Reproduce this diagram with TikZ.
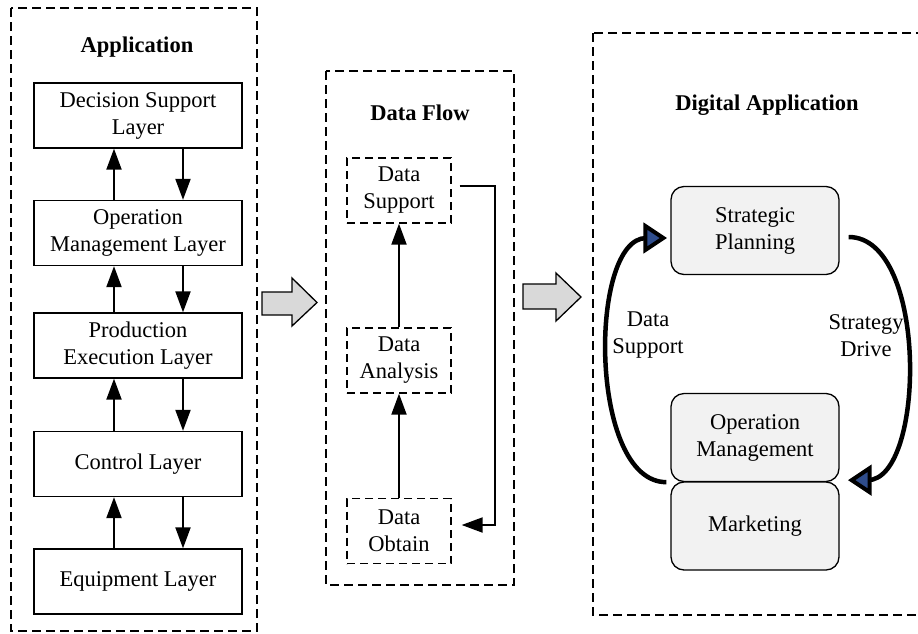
\documentclass[tikz,border=0pt]{standalone}
\usepackage{fontspec}
\setmainfont{Liberation Serif}
\usetikzlibrary{arrows.meta}

\definecolor{boxgray}{HTML}{F2F2F2}
\definecolor{arrowgray}{HTML}{D9D9D9}
\definecolor{tipblue}{HTML}{2F4D8C}

\tikzset{
  every node/.style={font=\fontsize{22.5}{27}\selectfont, align=center, inner sep=0pt},
  frame/.style={line width=1.3pt, dash pattern=on 9pt off 5pt},
  layer/.style={draw, line width=1.3pt, minimum width=208pt, minimum height=65pt},
  flowbox/.style={draw, line width=1.3pt, dash pattern=on 8pt off 5pt, minimum width=104pt, minimum height=65pt},
  digbox/.style={draw, line width=1.3pt, rounded corners=13pt, fill=boxgray, minimum width=168pt, minimum height=88pt},
  title/.style={font=\fontsize{22.5}{27}\selectfont\bfseries},
  arr/.style={line width=2pt, -{Triangle[length=21pt,width=15pt]}},
  bigline/.style={line width=4.5pt},
  bigtip/.style={draw, line width=4pt, fill=tipblue, line join=miter},
  blockarrow/.style={draw, line width=1.3pt, fill=arrowgray, line join=miter},
}

\begin{document}
\begin{tikzpicture}[x=1pt,y=-1pt]
\useasboundingbox (0,0) rectangle (918,633);

% ---------- left column: layered architecture ----------
\draw[frame] (11,8) rectangle (257,631);
\node[title] (apptitle) at (137,47) {Application};

\node[layer] (dec)  at (138,115.5) {Decision Support\\Layer};
\node[layer] (opm)  at (138,233)   {Operation\\Management Layer};
\node[layer] (prod) at (138,345.5) {Production\\Execution Layer};
\node[layer] (ctrl) at (138,464)   {Control Layer};
\node[layer] (equ)  at (138,581.5) {Equipment Layer};

\coordinate (upx) at (114,0);
\coordinate (dnx) at (183,0);
\foreach \lo/\hi in {opm/dec, prod/opm, ctrl/prod, equ/ctrl}{
  \draw[arr] (\lo.north -| upx) -- (\hi.south -| upx);
  \draw[arr] (\hi.south -| dnx) -- (\lo.north -| dnx);
}

% ---------- block arrows between columns ----------
\draw[blockarrow] (262,292) -- (292,292) -- (292,278) -- (317,302.5)
  -- (292,326) -- (292,315) -- (262,315) -- cycle;
\draw[blockarrow] (523,284) -- (556,284) -- (556,273) -- (581,297)
  -- (556,321) -- (556,309) -- (523,309) -- cycle;

% ---------- middle column: data flow ----------
\draw[frame] (326,71) rectangle (514,585);
\node[title] (flowtitle) at (420,113) {Data Flow};

\node[flowbox] (ds) at (399,190.5) {Data\\Support};
\node[flowbox] (da) at (399,360.5) {Data\\Analysis};
\node[flowbox] (do) at (399,531)   {Data\\Obtain};

\draw[arr] (da.north) -- (ds.south);
\draw[arr] (do.north) -- (da.south);
\draw[arr] ([xshift=8pt,yshift=4.5pt]ds.east) -| ([xshift=43pt,yshift=6pt]do.east)
  -- ([xshift=10pt,yshift=6pt]do.east);

% ---------- right column: digital application ----------
\draw[frame] (593,33) rectangle (919,615);
\node[title] (digtitle) at (767,105) {Digital Application};

\node[digbox] (sp) at (755,230.5) {Strategic\\Planning};
\node[digbox] (om) at (755,437.5) {Operation\\Management};
\node[digbox] (mk) at (755,526)   {Marketing};

% feedback loop: data support (left) and strategy drive (right)
\draw[bigline] ([xshift=-4pt]om.south west) .. controls +(-78,0) and +(-58,0)
  .. ([xshift=-24pt,yshift=-7.5pt]sp.west);
\draw[bigtip] ([xshift=-7pt,yshift=-7.5pt]sp.west)
  -- ([xshift=-25pt,yshift=4.5pt]sp.west)
  -- ([xshift=-25pt,yshift=-19.5pt]sp.west) -- cycle;

\draw[bigline] ([xshift=9pt,yshift=-6.5pt]sp.east) .. controls +(80,0) and +(58,0)
  .. ([xshift=28pt,yshift=2pt]om.south east);
\draw[bigtip] ([xshift=12pt,yshift=2pt]om.south east)
  -- ([xshift=30pt,yshift=14pt]om.south east)
  -- ([xshift=30pt,yshift=-10pt]om.south east) -- cycle;

\node (dslab) at (648,335) {Data\\Support};
\node (sdlab) at (866,336) {Strategy\\Drive};
\end{tikzpicture}
\end{document}
